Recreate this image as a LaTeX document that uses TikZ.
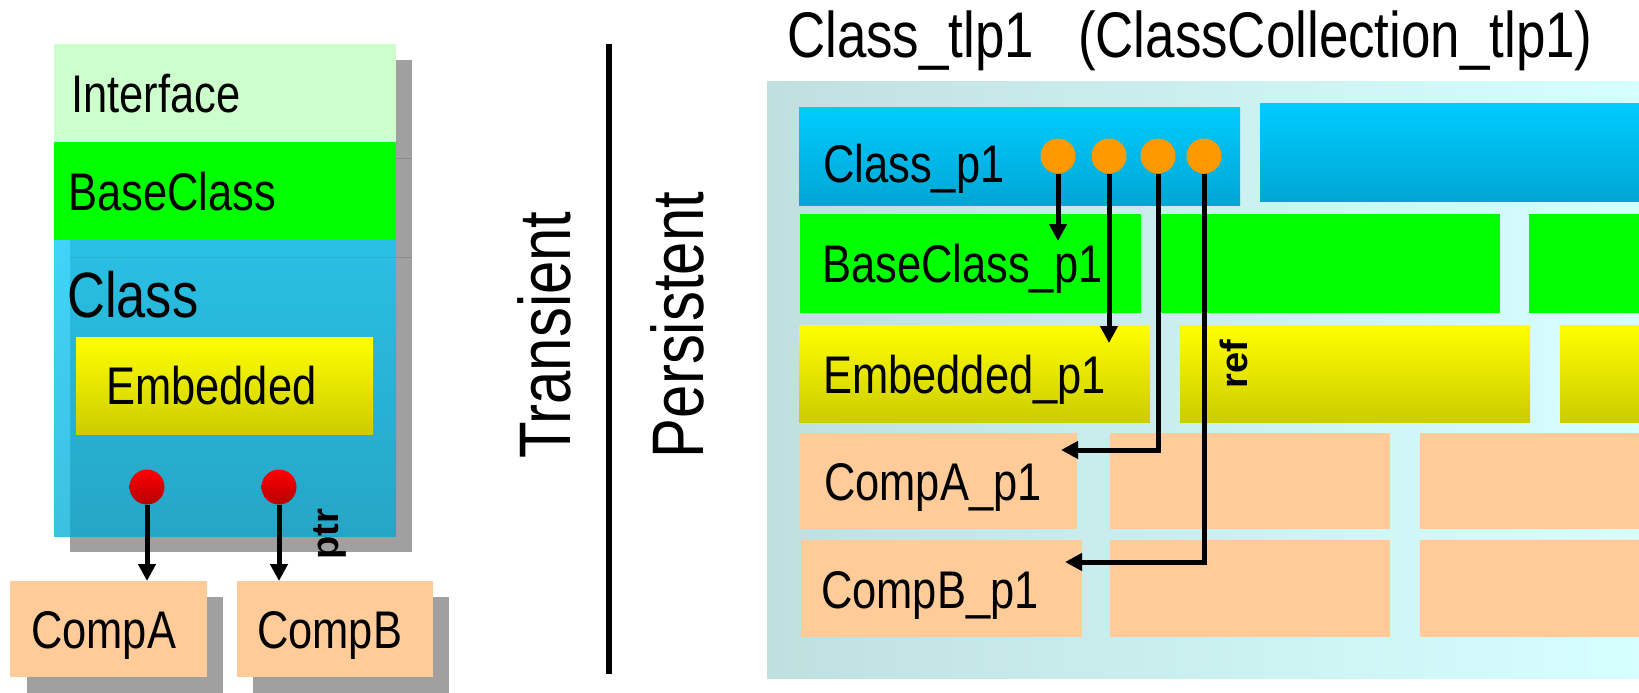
\documentclass[tikz,border=0pt]{standalone}
\usepackage{fontspec}
\setmainfont{Liberation Sans}
\newfontfamily\nar{Liberation Sans}[FakeStretch=0.82]
\usetikzlibrary{arrows.meta}
\definecolor{ifacecol}{HTML}{CCFFCC}
\definecolor{basegreen}{HTML}{00FF00}
\definecolor{peach}{HTML}{FFCC99}
\definecolor{shadowgray}{HTML}{A0A0A0}
\definecolor{shadowline}{HTML}{8C8C8C}
\definecolor{orangedot}{HTML}{FF9900}
\definecolor{clsTop}{HTML}{29C0E4}
\definecolor{clsBot}{HTML}{26A6C6}
\definecolor{clsStrip}{HTML}{40D4F8}
\definecolor{clsStripBot}{HTML}{3CC0E0}
\definecolor{blueTop}{HTML}{00CCFF}
\definecolor{blueBot}{HTML}{00A6D4}
\definecolor{yelTop}{HTML}{FFFF00}
\definecolor{yelBot}{HTML}{CCCC00}
\definecolor{panelL}{HTML}{C0E0E0}
\definecolor{panelR}{HTML}{D6FFFF}
\definecolor{redTop}{HTML}{FF0000}
\definecolor{redBot}{HTML}{B40000}
\tikzset{
  blk/.style={anchor=north west, inner sep=0pt, outer sep=0pt, draw=none},
  shadowbox/.style={blk, fill=shadowgray},
  peachbox/.style={blk, fill=peach},
  greenbox/.style={blk, fill=basegreen},
  yelbox/.style={blk, top color=yelTop, bottom color=yelBot},
  bluebox/.style={blk, top color=blueTop, bottom color=blueBot},
  lbl/.style={font=\nar\fontsize{53pt}{60pt}\selectfont, anchor=base west, inner sep=0pt},
  biglbl/.style={font=\nar\fontsize{64pt}{70pt}\selectfont, anchor=base west, inner sep=0pt},
  titlelbl/.style={font=\nar\fontsize{64.5pt}{72pt}\selectfont, anchor=base west, inner sep=0pt},
  sidelbl/.style={font=\nar\fontsize{73pt}{80pt}\selectfont, anchor=base, rotate=90, inner sep=0pt},
  smalllbl/.style={font=\bfseries\fontsize{38pt}{42pt}\selectfont, anchor=base, rotate=90, inner sep=0pt},
  ball/.style={circle, minimum size=35pt, inner sep=0pt, draw=none, top color=redTop, bottom color=redBot},
  dot/.style={circle, minimum size=35pt, inner sep=0pt, draw=none, fill=orangedot},
  arr/.style={line width=5pt, -{Triangle[length=17pt,width=17pt]}},
  elbow/.style={line width=5pt, -{Triangle[length=17pt,width=17pt]}, rounded corners=0pt}
}
\begin{document}
\begin{tikzpicture}[x=1pt,y=-1pt]
\useasboundingbox (0,0) rectangle (1639,693);
\fill[white] (0,0) rectangle (1639,693);

% ---------------- left (transient) ----------------
\node[shadowbox, minimum width=342pt, minimum height=492pt] (clsshadow) at (70,60) {};
\draw[shadowline, line width=1pt] (396,158) -- (412,158);
\draw[shadowline, line width=1pt] (396,257) -- (412,257);
\node[blk, fill=ifacecol, minimum width=342pt, minimum height=98pt] (iface) at (54,44) {};
\node[greenbox, minimum width=342pt, minimum height=98pt] (base) at (54,142) {};
\node[blk, top color=clsTop, bottom color=clsBot, minimum width=342pt, minimum height=296pt] (cls) at (54,240) {};
\node[blk, top color=clsStrip, bottom color=clsStripBot, minimum width=16pt, minimum height=296pt] (clsstrip) at (54,240) {};
\draw[clsBot!90!black, opacity=0.35, line width=1pt] (70,257) -- (396,257);
\node[yelbox, minimum width=297pt, minimum height=97pt] (emb) at (76,337) {};

\node[lbl] (ifacet) at (71,112) {Interface};
\node[lbl] (baset) at (68,210) {BaseClass};
\node[biglbl] (clst) at (67,317) {Class};
\node[lbl] (embt) at (106,404) {Embedded};

\node[shadowbox, minimum width=196pt, minimum height=96pt] (cAshadow) at (27,597) {};
\node[peachbox, minimum width=197pt, minimum height=96pt] (compA) at (10,581) {};
\node[shadowbox, minimum width=196pt, minimum height=96pt] (cBshadow) at (253,597) {};
\node[peachbox, minimum width=196pt, minimum height=96pt] (compB) at (237,581) {};
\node[lbl] (compAt) at (31,648) {CompA};
\node[lbl] (compBt) at (257,648) {CompB};

\node[ball] (r1) at (147,487) {};
\node[ball] (r2) at (279,487) {};
\draw[arr] (r1.south) -- (r1 |- compA.north);
\draw[arr] (r2.south) -- (r2 |- compB.north);
\node[smalllbl] (ptr) at (338,534) {ptr};

% ---------------- divider ----------------
\coordinate (divtop) at (609,44);
\coordinate (divbot) at (609,674);
\draw[line width=5.5pt] (divtop) -- (divbot);
\node[sidelbl] (trans) at (570,335) {Transient};
\node[sidelbl] (pers) at (703,325) {Persistent};

% ---------------- right (persistent) ----------------
\node[titlelbl] (title) at (787,58) {Class\_tlp1\ \ \ (ClassCollection\_tlp1)};
\node[blk, left color=panelL, right color=panelR, minimum width=872pt, minimum height=596pt] (panel) at (767,82) {};

\node[bluebox, minimum width=441pt, minimum height=98pt] (classp) at (799,107) {};
\node[bluebox, minimum width=379pt, minimum height=98pt] (classq) at (1260,103) {};

\node[greenbox, minimum width=341pt, minimum height=99pt] (basep) at (800,214) {};
\node[greenbox, minimum width=339pt, minimum height=99pt] (baseq) at (1161,214) {};
\node[greenbox, minimum width=110pt, minimum height=99pt] (baser) at (1529,214) {};

\node[yelbox, minimum width=351pt, minimum height=97pt] (embp) at (799,325) {};
\node[yelbox, minimum width=350pt, minimum height=97pt] (embq) at (1180,325) {};
\node[yelbox, minimum width=79pt, minimum height=97pt] (embr) at (1560,325) {};

\node[peachbox, minimum width=277pt, minimum height=96pt] (cAp) at (800,433) {};
\node[peachbox, minimum width=280pt, minimum height=96pt] (cAq) at (1110,433) {};
\node[peachbox, minimum width=219pt, minimum height=96pt] (cAr) at (1420,433) {};

\node[peachbox, minimum width=281pt, minimum height=97pt] (cBp) at (801,540) {};
\node[peachbox, minimum width=280pt, minimum height=97pt] (cBq) at (1110,540) {};
\node[peachbox, minimum width=219pt, minimum height=97pt] (cBr) at (1420,540) {};

\node[lbl] (classpt) at (823,182) {Class\_p1};
\node[lbl] (basept) at (822,282) {BaseClass\_p1};
\node[lbl] (embpt) at (823,393) {Embedded\_p1};
\node[lbl] (cApt) at (824,500) {CompA\_p1};
\node[lbl] (cBpt) at (821,608) {CompB\_p1};

\node[dot] (d1) at (1058,156) {};
\node[dot] (d2) at (1109,156) {};
\node[dot] (d3) at (1158,156) {};
\node[dot] (d4) at (1204,156) {};

\coordinate (t1) at (1058,241);
\coordinate (t2) at (1109,343);
\coordinate (c3) at (1158,450);
\coordinate (t3) at (1061,450);
\coordinate (c4) at (1204,562);
\coordinate (t4) at (1065,562);

\draw[arr] (d1.south) -- (t1);
\draw[arr] (d2.south) -- (t2);
\draw[elbow] (d3.south) -- (c3) -- (t3);
\draw[elbow] (d4.south) -- (c4) -- (t4);
\node[smalllbl] (ref) at (1247,364) {ref};
\end{tikzpicture}
\end{document}
